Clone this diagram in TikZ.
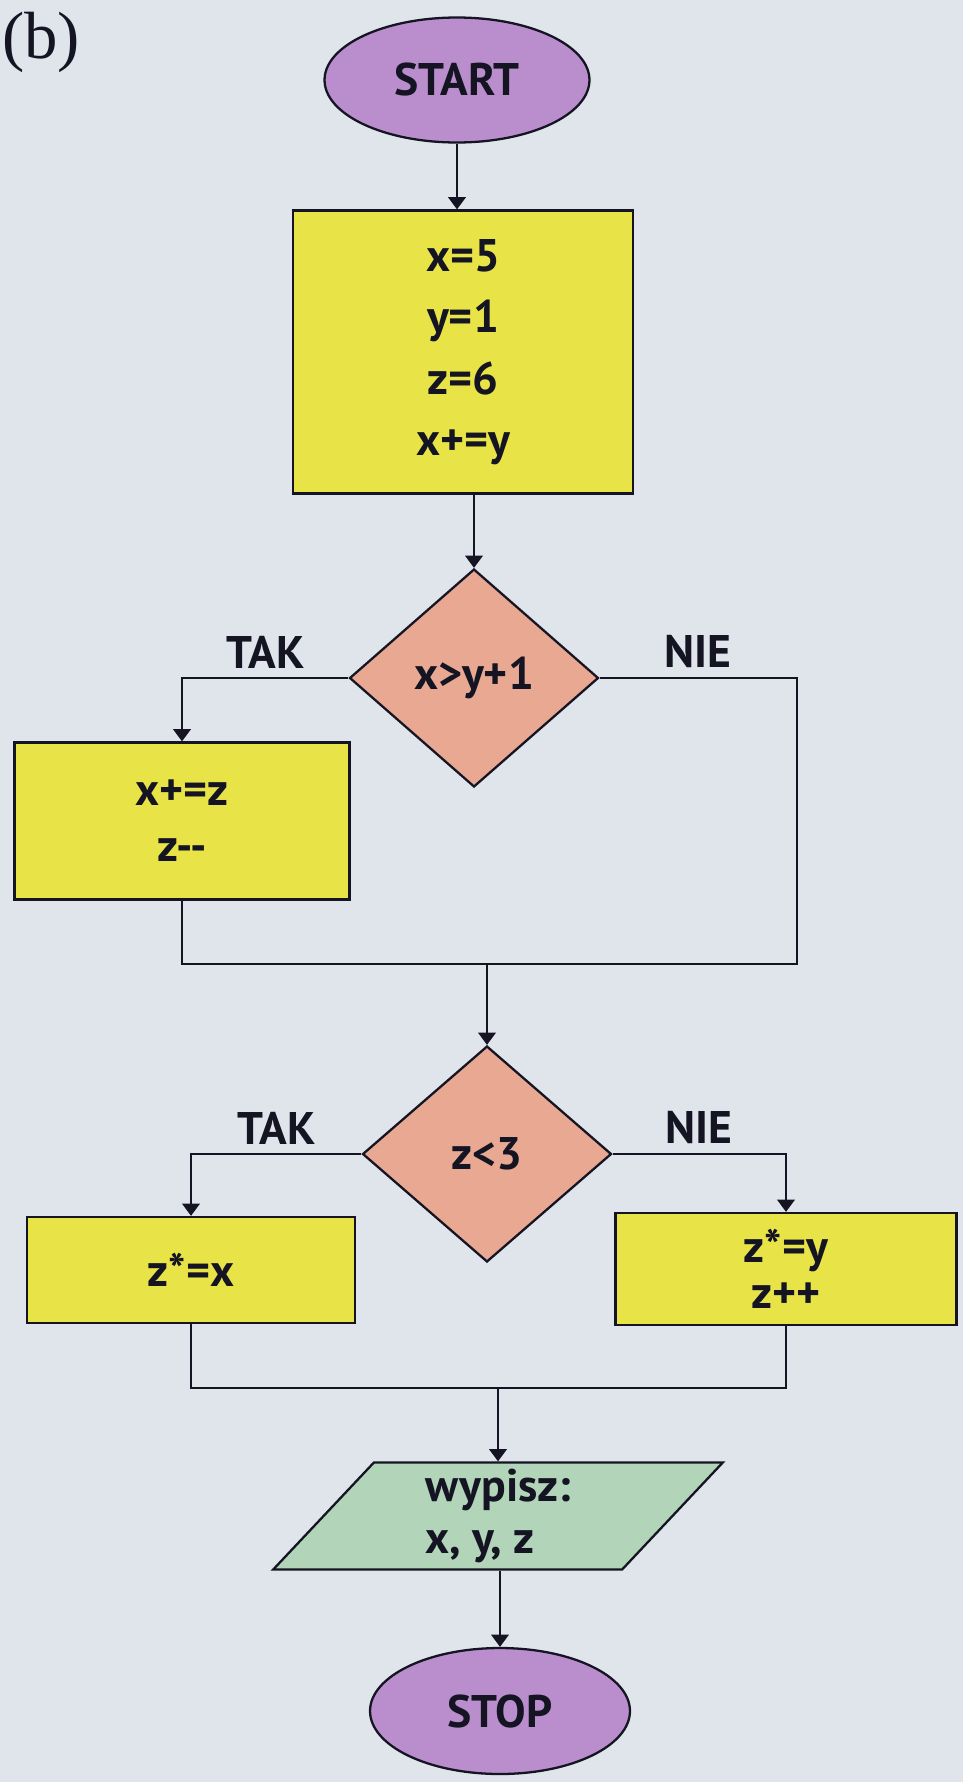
\documentclass[tikz,border=0pt]{standalone}
\usepackage{fontspec}
\setmainfont{PT Sans}
\newfontfamily\tagfont{Liberation Serif}
\usetikzlibrary{shapes.geometric,arrows.meta}

\definecolor{paper}{RGB}{224,229,235}
\definecolor{lilac}{RGB}{186,142,205}
\definecolor{boxyellow}{RGB}{232,228,72}
\definecolor{salmon}{RGB}{232,168,146}
\definecolor{mint}{RGB}{178,212,184}
\definecolor{ink}{RGB}{20,20,35}

\newcommand\chartfont{\bfseries\fontsize{26}{35}\selectfont}

\tikzset{
  every node/.style={font=\chartfont, text=ink},
  terminal/.style={ellipse, draw=ink, fill=lilac, line width=1.3pt, inner sep=0pt},
  action/.style={rectangle, draw=ink, fill=boxyellow, line width=1.3pt, align=center, inner sep=0pt},
  test/.style={diamond, draw=ink, fill=salmon, line width=1.3pt, inner sep=0pt},
  io/.style={trapezium, trapezium left angle=58, trapezium right angle=122,
    trapezium stretches=true, draw=ink, fill=mint, line width=1.3pt, align=left, inner sep=0pt},
  flow/.style={draw=ink, line width=1.3pt},
  arr/.style={flow, -{Triangle[width=10pt,length=7pt]}},
  answer/.style={above, inner sep=5pt}
}

\begin{document}
\begin{tikzpicture}[x=0.02cm, y=-0.02cm]
  \path[use as bounding box, fill=paper] (0,0) rectangle (963,1782);
  \node[anchor=west, inner sep=0pt, font=\tagfont\fontsize{38}{40}\selectfont] (tag) at (2,42) {(b)};

  % blocks
  \node[terminal, minimum width=5.3cm, minimum height=2.5cm] (start) at (457,80) {START};
  \node[action, minimum width=6.8cm, minimum height=5.66cm] (init) at (463,352) {x=5\\y=1\\z=6\\x+=y};
  \node[test, minimum width=4.98cm, minimum height=4.36cm] (cond1) at (474,678) {x>y+1};
  \node[action, minimum width=6.7cm, minimum height=3.14cm, font=\bfseries\fontsize{26}{32}\selectfont] (incz) at (182,821) {x+=z\\z-{}-};
  \node[test, minimum width=4.98cm, minimum height=4.32cm] (cond2) at (487,1154) {z<3};
  \node[action, minimum width=6.56cm, minimum height=2.12cm] (mulx) at (191,1270) {z*=x};
  \node[action, minimum width=6.82cm, minimum height=2.24cm, font=\bfseries\fontsize{26}{26}\selectfont] (muly) at (786,1269) {z*=y\\z++};
  \node[io, minimum width=9cm, minimum height=2.14cm, font=\bfseries\fontsize{26}{30}\selectfont] (print) at (498,1516) {wypisz:\\x, y, z};
  \node[terminal, minimum width=5.2cm, minimum height=2.52cm] (stop) at (500,1711) {STOP};

  \coordinate (join1) at (797,964);
  \coordinate (join2) at (497,1388);

  % connectors
  \draw[arr] (start.south) -- (start.south |- init.north);
  \draw[arr] (init.south -| cond1.north) -- (cond1.north);
  \draw[arr] (cond1.west) -| node[answer, pos=.25] {TAK} (incz.north);
  \draw[flow] (cond1.east) -| node[answer, pos=.25] {NIE} (join1) -| (incz.south);
  \draw[arr] (cond2.north |- join1) -- (cond2.north);
  \draw[arr] (cond2.west) -| node[answer, pos=.25] {TAK} (mulx.north);
  \draw[arr] (cond2.east) -| node[answer, pos=.25] {NIE} (muly.north);
  \draw[flow] (mulx.south) |- (join2) -| (muly.south);
  \draw[arr] (print.north |- join2) -- (print.north);
  \draw[arr] (print.south -| stop.north) -- (stop.north);
\end{tikzpicture}
\end{document}
